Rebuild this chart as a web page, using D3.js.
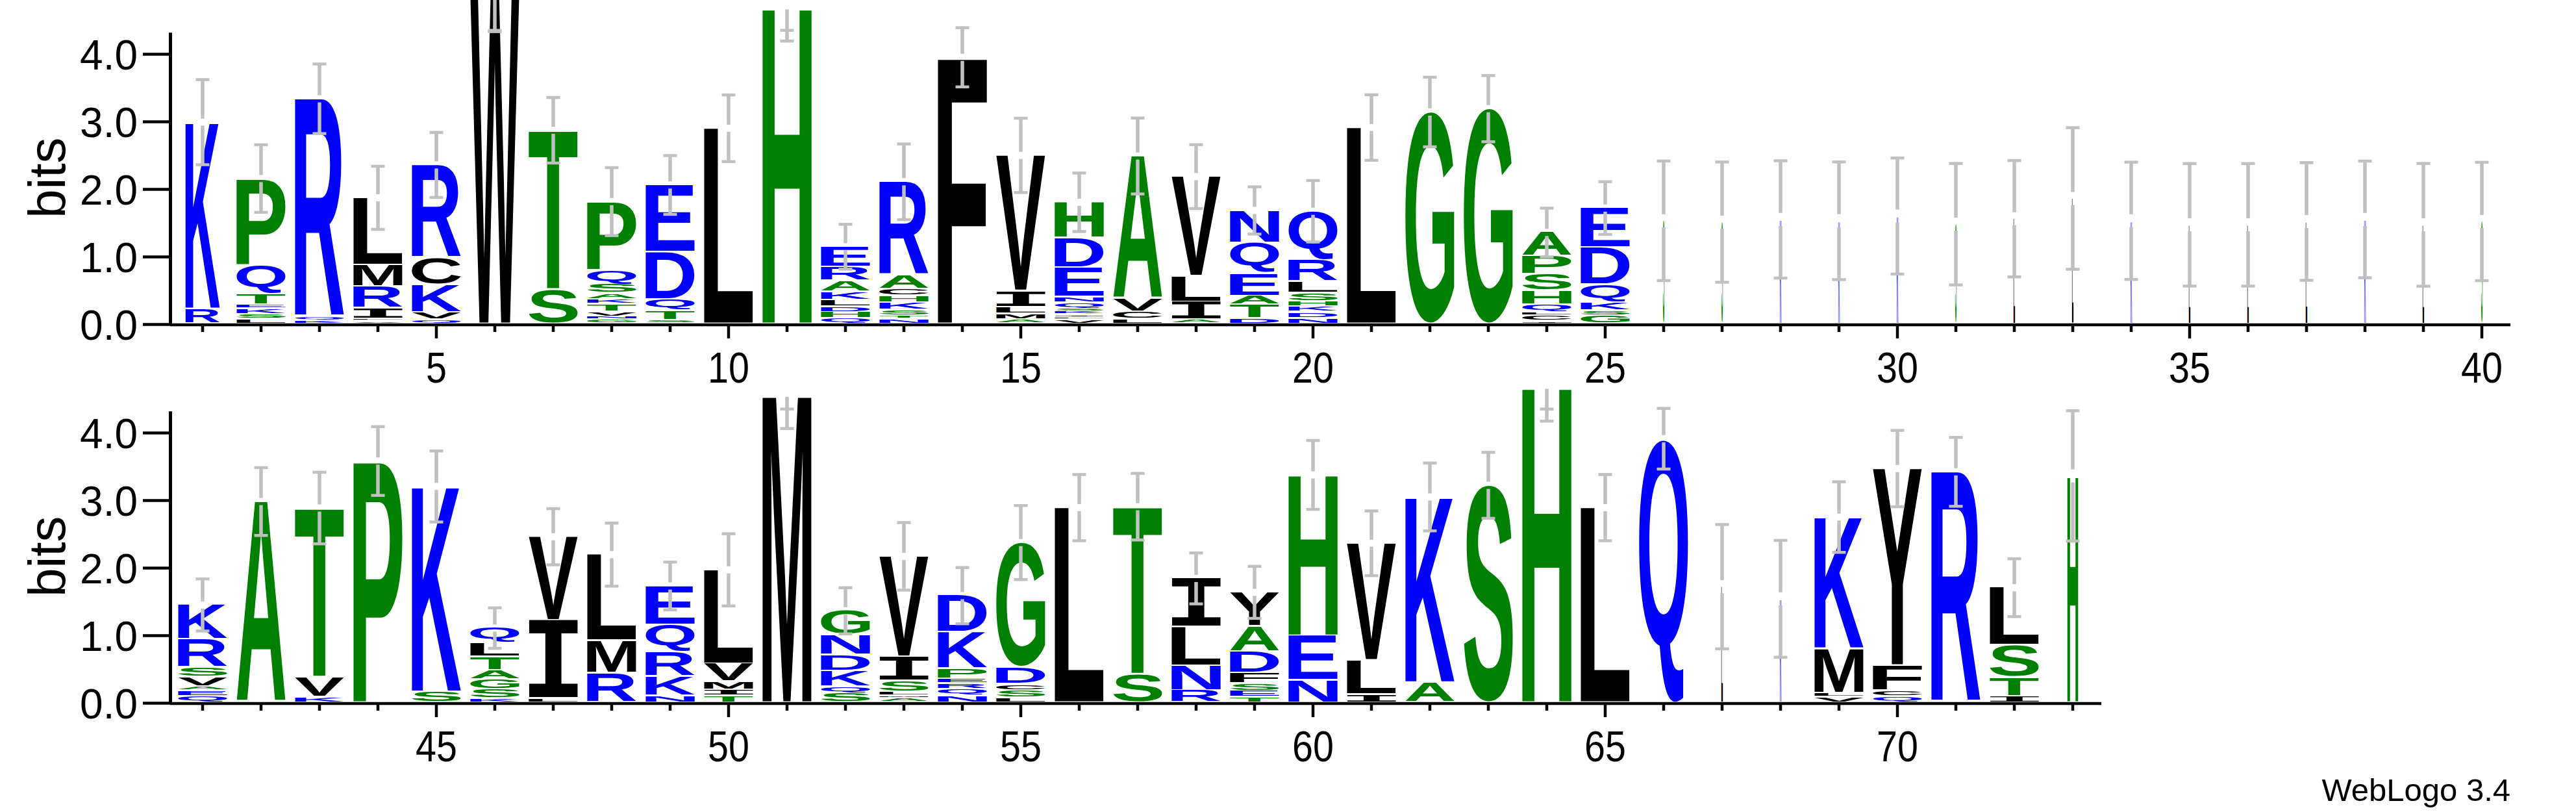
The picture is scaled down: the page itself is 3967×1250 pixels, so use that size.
<!DOCTYPE html>
<html>
<head>
<meta charset="utf-8">
<script src="https://cdn.jsdelivr.net/npm/d3@7"></script>
<style>
  body { margin: 0; background: #fff; }
</style>
</head>
<body>
<svg id="logo" width="3967" height="1250"></svg>
<script>
// letters per position, listed bottom -> top as [residue, bits]
const stacks = [
  /* 1*/ [['R', 0.22], ['K', 2.77]],
  /* 2*/ [['L', 0.07], ['S', 0.07], ['K', 0.085], ['E', 0.06], ['T', 0.16], ['Q', 0.43], ['P', 1.28]],
  /* 3*/ [['K', 0.046], ['Q', 0.05], ['R', 3.24]],
  /* 4*/ [['V', 0.04], ['F', 0.035], ['I', 0.155], ['R', 0.32], ['M', 0.32], ['L', 1.0]],
  /* 5*/ [['Q', 0.062], ['V', 0.11], ['K', 0.405], ['C', 0.40], ['R', 1.38]],
  /* 6*/ [['W', 4.9]],
  /* 7*/ [['S', 0.51], ['T', 2.36]],
  /* 8*/ [['G', 0.058], ['N', 0.045], ['V', 0.076], ['T', 0.113], ['K', 0.072], ['A', 0.09], ['S', 0.13], ['Q', 0.21], ['P', 1.02]],
  /* 9*/ [['S', 0.05], ['T', 0.14], ['Q', 0.17], ['D', 0.70], ['E', 1.0]],
  /*10*/ [['L', 2.90]],
  /*11*/ [['H', 4.69]],
  /*12*/ [['Q', 0.079], ['H', 0.093], ['D', 0.086], ['L', 0.096], ['K', 0.117], ['A', 0.165], ['R', 0.21], ['E', 0.30]],
  /*13*/ [['N', 0.069], ['T', 0.052], ['S', 0.086], ['K', 0.11], ['H', 0.096], ['C', 0.103], ['A', 0.206], ['R', 1.385]],
  /*14*/ [['F', 3.95]],
  /*15*/ [['A', 0.062], ['M', 0.086], ['L', 0.10], ['I', 0.24], ['V', 2.01]],
  /*16*/ [['V', 0.058], ['L', 0.038], ['I', 0.041], ['K', 0.041], ['S', 0.045], ['Q', 0.093], ['N', 0.079], ['E', 0.44], ['D', 0.443], ['H', 0.526]],
  /*17*/ [['L', 0.069], ['C', 0.11], ['V', 0.19], ['A', 2.12]],
  /*18*/ [['A', 0.058], ['I', 0.268], ['L', 0.378], ['V', 1.48]],
  /*19*/ [['D', 0.079], ['T', 0.203], ['A', 0.13], ['E', 0.333], ['Q', 0.45], ['N', 0.488]],
  /*20*/ [['N', 0.085], ['D', 0.09], ['K', 0.08], ['H', 0.08], ['S', 0.12], ['L', 0.17], ['R', 0.316], ['Q', 0.73]],
  /*21*/ [['L', 2.91]],
  /*22*/ [['G', 3.14]],
  /*23*/ [['G', 3.19]],
  /*24*/ [['I', 0.04], ['C', 0.08], ['L', 0.045], ['Q', 0.117], ['H', 0.206], ['S', 0.25], ['P', 0.265], ['A', 0.354]],
  /*25*/ [['G', 0.12], ['S', 0.076], ['K', 0.12], ['Q', 0.261], ['D', 0.557], ['E', 0.584]],
  /*26*/ [['S', 1.53]],
  /*27*/ [['S', 1.51]],
  /*28*/ [['K', 1.55]],
  /*29*/ [['K', 1.53]],
  /*30*/ [['K', 1.60]],
  /*31*/ [['S', 1.48]],
  /*32*/ [['L', 1.56]],
  /*33*/ [['L', 1.86]],
  /*34*/ [['K', 1.53]],
  /*35*/ [['L', 1.47]],
  /*36*/ [['L', 1.47]],
  /*37*/ [['L', 1.52]],
  /*38*/ [['K', 1.55]],
  /*39*/ [['L', 1.47]],
  /*40*/ [['S', 1.52]],
  /*41*/ [['Q', 0.096], ['E', 0.079], ['A', 0.065], ['V', 0.137], ['S', 0.14], ['R', 0.418], ['K', 0.514]],
  /*42*/ [['A', 2.98]],
  /*43*/ [['K', 0.079], ['V', 0.298], ['T', 2.507]],
  /*44*/ [['P', 3.58]],
  /*45*/ [['S', 0.158], ['K', 3.045]],
  /*46*/ [['K', 0.062], ['S', 0.137], ['G', 0.144], ['A', 0.137], ['T', 0.199], ['L', 0.205], ['Q', 0.223]],
  /*47*/ [['L', 0.062], ['I', 1.157], ['V', 1.24]],
  /*48*/ [['R', 0.438], ['M', 0.479], ['L', 1.277]],
  /*49*/ [['N', 0.103], ['K', 0.284], ['R', 0.36], ['Q', 0.404], ['E', 0.579]],
  /*50*/ [['T', 0.103], ['I', 0.089], ['M', 0.116], ['V', 0.267], ['L', 1.394]],
  /*51*/ [['M', 4.56]],
  /*52*/ [['S', 0.137], ['Q', 0.096], ['K', 0.233], ['D', 0.236], ['N', 0.301], ['G', 0.36]],
  /*53*/ [['A', 0.062], ['M', 0.041], ['L', 0.055], ['S', 0.161], ['I', 0.36], ['V', 1.49]],
  /*54*/ [['N', 0.1], ['Q', 0.1], ['R', 0.086], ['E', 0.068], ['P', 0.147], ['K', 0.538], ['D', 0.548]],
  /*55*/ [['L', 0.068], ['S', 0.113], ['C', 0.092], ['D', 0.25], ['G', 1.85]],
  /*56*/ [['L', 2.89]],
  /*57*/ [['S', 0.421], ['T', 2.483]],
  /*58*/ [['R', 0.182], ['N', 0.366], ['L', 0.575], ['I', 0.719]],
  /*59*/ [['T', 0.079], ['E', 0.092], ['S', 0.113], ['F', 0.154], ['D', 0.318], ['A', 0.373], ['Y', 0.507]],
  /*60*/ [['N', 0.329], ['E', 0.658], ['H', 2.387]],
  /*61*/ [['I', 0.123], ['L', 0.503], ['V', 1.736]],
  /*62*/ [['A', 0.295], ['K', 2.753]],
  /*63*/ [['S', 3.22]],
  /*64*/ [['H', 4.68]],
  /*65*/ [['L', 2.89]],
  /*66*/ [['Q', 3.91]],
  /*67*/ [['L', 1.72]],
  /*68*/ [['K', 1.54]],
  /*69*/ [['V', 0.079], ['L', 0.058], ['M', 0.661], ['K', 1.952]],
  /*70*/ [['Q', 0.089], ['C', 0.092], ['F', 0.366], ['Y', 2.921]],
  /*71*/ [['R', 3.42]],
  /*72*/ [['I', 0.096], ['T', 0.274], ['S', 0.479], ['L', 0.856]],
  /*73*/ [['H', 3.36]]
];

// half-height of the error bar at each position (bits)
const errors = [
  0.63, 0.50, 0.515, 0.467, 0.481, 0.57, 0.485, 0.503, 0.435, 0.493,
  0.50, 0.332, 0.56, 0.438, 0.55, 0.433, 0.562, 0.473, 0.35, 0.455,
  0.485, 0.515, 0.49, 0.36, 0.39, 0.885, 0.89, 0.868, 0.871, 0.859,
  0.899, 0.861, 1.048, 0.868, 0.907, 0.907, 0.871, 0.863, 0.909, 0.876,
  0.385, 0.502, 0.53, 0.509, 0.526, 0.30, 0.416, 0.467, 0.354, 0.534,
  0.50, 0.342, 0.50, 0.416, 0.548, 0.49, 0.493, 0.377, 0.385, 0.51,
  0.479, 0.502, 0.488, 0.51, 0.49, 0.449, 0.92, 0.865, 0.522, 0.565,
  0.51, 0.428, 0.964
];

// fraction of sequences without a gap (stack width)
const occupancy = [
  0.7, 1, 1, 1, 1, 1, 1, 1, 1, 1,
  1, 1, 1, 1, 1, 1, 1, 1, 1, 1,
  1, 1, 1, 1, 1, 0.03, 0.03, 0.03, 0.03, 0.03,
  0.03, 0.03, 0.03, 0.03, 0.03, 0.03, 0.03, 0.03, 0.03, 0.03,
  1, 1, 1, 1, 1, 1, 1, 1, 1, 1,
  1, 1, 1, 1, 1, 1, 1, 1, 1, 1,
  1, 1, 1, 1, 1, 1, 0.03, 0.03, 1, 1,
  1, 1, 0.22
];

const lineStarts = [1, 41];
const lineEnds = [40, 73];
const labelledPositions = [5, 10, 15, 20, 25, 30, 35, 40, 45, 50, 55, 60, 65, 70];
const yMajorTicks = [0, 1, 2, 3, 4];
const yMinorTicks = [0.2, 0.4, 0.6, 0.8, 1.2, 1.4, 1.6, 1.8, 2.2, 2.4, 2.6, 2.8,
                     3.2, 3.4, 3.6, 3.8, 4.2];
const maxBits = 4.32;

// hydrophobicity colour scheme
const colourGroups = [
  { letters: 'RKDENQ', colour: '#0000ff' },
  { letters: 'SGHTAP', colour: '#008000' },
  { letters: 'YVMCLFIW', colour: '#000000' }
];

const svg = d3.select('#logo');
const sansFont = '"Liberation Sans", Arial, sans-serif';
const glyphPx = 200;
const bitPx = 104;
const baselines = [499, 1082];
const axisX = 262;
const step = 90;

function colourOf(ch) {
  const g = colourGroups.find(c => c.letters.includes(ch));
  return g ? g.colour : '#000';
}

// ink box of each glyph, measured once on a canvas
const measure = document.createElement('canvas').getContext('2d');
const boxes = {};
function fontFor(ch) {
  // the I in the logo is drawn with serifs
  return ch === 'I' ? '"DejaVu Sans Mono", monospace' : sansFont;
}
function glyphBox(ch) {
  if (!boxes[ch]) {
    measure.font = `bold ${glyphPx}px ${fontFor(ch)}`;
    const m = measure.measureText(ch);
    boxes[ch] = {
      l: m.actualBoundingBoxLeft,
      r: m.actualBoundingBoxRight,
      a: m.actualBoundingBoxAscent,
      d: m.actualBoundingBoxDescent
    };
  }
  return boxes[ch];
}

function drawLetter(g, ch, x0, yTop, w, h) {
  const b = glyphBox(ch);
  const sx = w / (b.l + b.r);
  const sy = h / (b.a + b.d);
  g.append('text')
    .attr('transform', `translate(${x0},${yTop}) scale(${sx},${sy}) translate(${b.l},${b.a})`)
    .attr('font-family', fontFor(ch))
    .attr('font-weight', 'bold')
    .attr('font-size', glyphPx)
    .attr('fill', colourOf(ch))
    .text(ch);
}

function drawErrorBar(g, cx, y, total, e, thin) {
  const gap = thin ? 20 : 11;
  const lo = total - e;
  const clipped = total > maxBits;
  const hi = clipped ? total - 0.03 : total + e;
  const yMid = y(total);
  const segs = clipped
    ? [[y(lo), y(hi)]]
    : [[y(lo), yMid + gap / 2], [yMid - gap / 2, y(hi)]];
  const caps = clipped ? [y(lo), y(maxBits) - 3] : [y(lo), y(hi)];
  segs.forEach(s => {
    g.append('line')
      .attr('x1', cx).attr('x2', cx)
      .attr('y1', s[0]).attr('y2', s[1])
      .attr('stroke', '#c0c0c0').attr('stroke-width', 5.5);
  });
  caps.forEach(cy => {
    g.append('line')
      .attr('x1', cx - 10.5).attr('x2', cx + 10.5)
      .attr('y1', cy).attr('y2', cy)
      .attr('stroke', '#c0c0c0').attr('stroke-width', 4.5);
  });
}

lineStarts.forEach((first, row) => {
  const last = lineEnds[row];
  const base = baselines[row];
  const positions = d3.range(first, last + 1);
  const x = d3.scaleBand()
    .domain(positions)
    .range([267, 267 + step * positions.length])
    .paddingInner(0.16)
    .paddingOuter(0.08);
  const y = d3.scaleLinear()
    .domain([0, maxBits])
    .range([base, base - maxBits * bitPx]);

  const g = svg.append('g');

  // stacks
  const letterLayer = g.append('g');
  const barLayer = g.append('g');
  positions.forEach(p => {
    const i = p - 1;
    const w = x.bandwidth() * occupancy[i];
    const cx = x(p) + x.bandwidth() / 2;
    let cum = 0;
    stacks[i].forEach(([ch, bits]) => {
      const yBottom = y(cum);
      const yTop = y(cum + bits);
      const ink = Math.max(yBottom - yTop - 2.5, 0.8);
      drawLetter(letterLayer, ch, cx - w / 2, yTop, w, ink);
      cum += bits;
    });
    drawErrorBar(barLayer, cx, y, cum, errors[i], occupancy[i] < 0.5);
  });

  // y axis
  const yAxisG = g.append('g').attr('transform', `translate(${axisX},0)`);
  yAxisG.call(d3.axisLeft(y).tickValues(yMinorTicks).tickSize(21).tickSizeOuter(0).tickFormat(''))
    .call(a => a.select('.domain').remove());
  yAxisG.call(d3.axisLeft(y).tickValues(yMajorTicks).tickSize(42).tickSizeOuter(0)
      .tickPadding(8).tickFormat(d3.format('.1f')));
  yAxisG.selectAll('line').attr('stroke', '#000').attr('stroke-width', 4.5);
  yAxisG.select('.domain').attr('stroke', '#000').attr('stroke-width', 5);
  yAxisG.selectAll('text')
    .attr('font-family', sansFont)
    .attr('font-size', 64)
    .attr('fill', '#000')
    .attr('dy', '0.36em');

  g.append('text')
    .attr('transform', `translate(100,${y(maxBits / 2) - 0.5}) rotate(-90)`)
    .attr('text-anchor', 'middle')
    .attr('font-family', sansFont)
    .attr('font-size', 80)
    .text('bits');

  // x axis
  const xAxisG = g.append('g').attr('transform', `translate(0,${base + 1})`);
  xAxisG.append('line')
    .attr('x1', axisX).attr('x2', 267 + step * positions.length - 1)
    .attr('stroke', '#000').attr('stroke-width', 4.5);
  const minor = positions.filter(p => !labelledPositions.includes(p));
  const major = positions.filter(p => labelledPositions.includes(p));
  xAxisG.append('g')
    .call(d3.axisBottom(x).tickValues(minor).tickSize(11).tickFormat(''))
    .call(a => a.select('.domain').remove());
  xAxisG.append('g')
    .call(d3.axisBottom(x).tickValues(major).tickSize(21))
    .call(a => a.select('.domain').remove())
    .call(a => a.selectAll('text')
      .attr('y', 89)
      .attr('dy', 0)
      .attr('transform', 'scale(0.87,1)')
      .attr('font-family', sansFont)
      .attr('font-size', 66)
      .attr('fill', '#000'));
  xAxisG.selectAll('line').attr('stroke', '#000').attr('stroke-width', 4.5);
});

svg.append('text')
  .attr('x', 3866)
  .attr('y', 1233)
  .attr('text-anchor', 'end')
  .attr('font-family', sansFont)
  .attr('font-size', 49)
  .text('WebLogo 3.4');
</script>
</body>
</html>
